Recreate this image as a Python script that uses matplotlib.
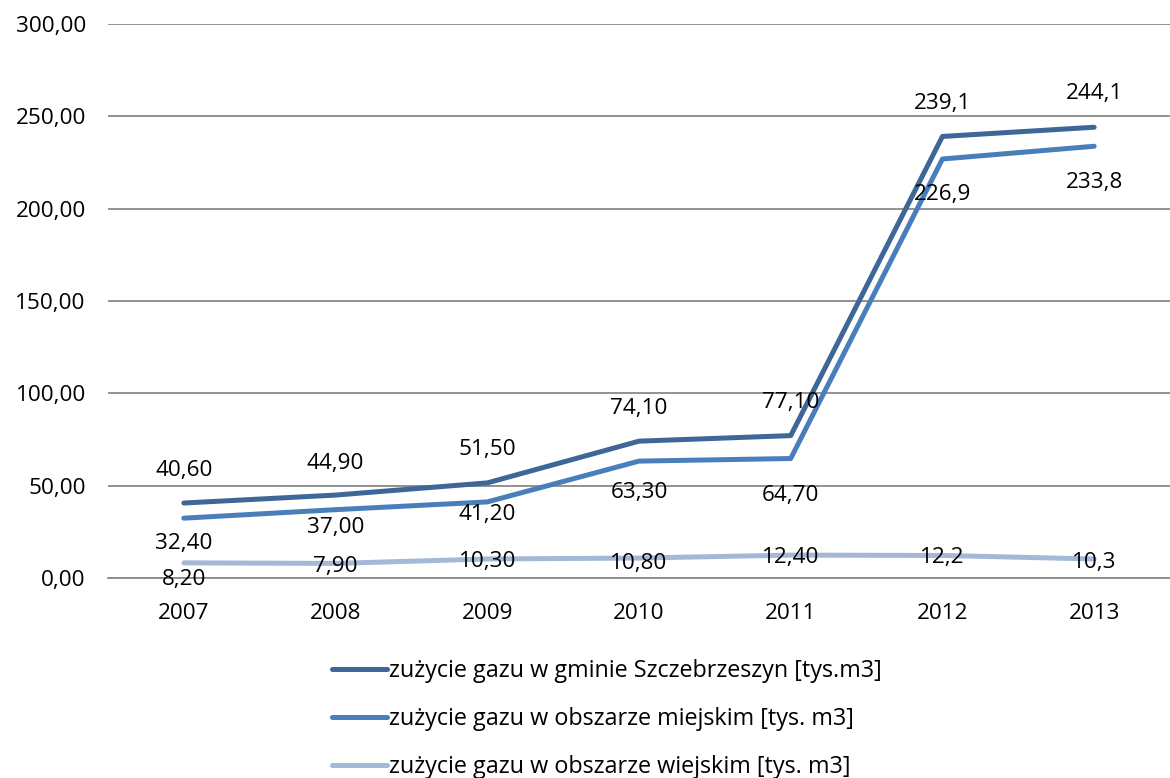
import matplotlib
matplotlib.use("Agg")
import matplotlib.pyplot as plt

plt.rcParams['font.family'] = ['Open Sans', 'DejaVu Sans']

# dane
lata = ['2007', '2008', '2009', '2010', '2011', '2012', '2013']
gmina = [40.6, 44.9, 51.5, 74.1, 77.1, 239.1, 244.1]
miasto = [32.4, 37.0, 41.2, 63.3, 64.7, 226.9, 233.8]
wies = [8.2, 7.9, 10.3, 10.8, 12.4, 12.2, 10.3]

etyk_gmina = ['40,60', '44,90', '51,50', '74,10', '77,10', '239,1', '244,1']
etyk_miasto = ['32,40', '37,00', '41,20', '63,30', '64,70', '226,9', '233,8']
etyk_wies = ['8,20', '7,90', '10,30', '10,80', '12,40', '12,2', '10,3']

nazwy = ['zużycie gazu w gminie Szczebrzeszyn [tys.m3]',
         'zużycie gazu w obszarze miejskim [tys. m3]',
         'zużycie gazu w obszarze wiejskim [tys. m3]']

kolory = ['#3E6696', '#4A7EBB', '#A5B8D7']

# przesunięcia etykiet w pikselach (w górę +)
off_gmina = [33, 32, 33, 33, 33, 33, 34]
off_miasto = [-25, -18, -13, -31, -37, -36, -36]
off_wies = [-17, -3, -3, -5, -2, -2, -4]

fs = 16.2

fig = plt.figure(figsize=(11.7, 7.78), dpi=100, facecolor='w')
ax = fig.add_axes([108/1170, 1-578/778, 1-108/1170, (578-24)/778])

x = list(range(len(lata)))
serie = [(gmina, etyk_gmina, off_gmina), (miasto, etyk_miasto, off_miasto), (wies, etyk_wies, off_wies)]
for i, (y, et, off) in enumerate(serie):
    ax.plot(x, y, color=kolory[i], lw=3.6, solid_capstyle='round', solid_joinstyle='round',
            label=nazwy[i], zorder=3)
for i, (y, et, off) in enumerate(serie):
    for xi, yi, t, o in zip(x, y, et, off):
        ax.annotate(t, (xi, yi), xytext=(0, o), textcoords='offset pixels',
                    ha='center', va='center', fontsize=fs, color='black', zorder=4)

ax.set_xlim(-0.5, 6.5)
ax.set_ylim(0, 300)
ax.set_yticks(range(0, 301, 50))
ax.set_yticklabels(['%d,00' % v for v in range(0, 301, 50)])
ax.set_xticks(x)
ax.set_xticklabels(lata)
ax.tick_params(axis='both', length=0, labelsize=fs, colors='black')
ax.tick_params(axis='y', pad=16)
ax.tick_params(axis='x', pad=18)
ax.grid(axis='y', color='#898989', lw=1.3)
ax.set_axisbelow(True)
for s in ['top', 'right', 'left']:
    ax.spines[s].set_visible(False)
ax.spines['bottom'].set_color('#898989')
ax.spines['bottom'].set_linewidth(1.3)

fig.legend(loc='upper left', bbox_to_anchor=(332/1170, 1-659/778), frameon=False,
           fontsize=16.8, handlelength=2.35, handletextpad=0.08, labelspacing=1.03,
           borderaxespad=0, borderpad=0)

fig.savefig('out.png', dpi=100)
